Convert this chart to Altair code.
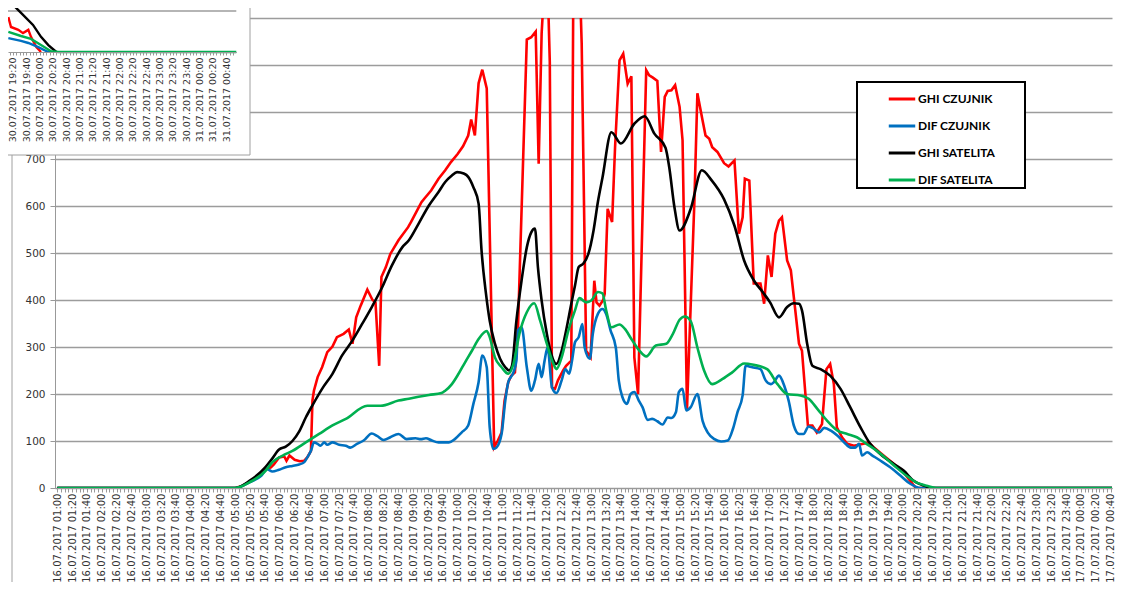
import altair as alt
import pandas as pd

SERIES = ["GHI CZUJNIK", "DIF CZUJNIK", "GHI SATELITA", "DIF SATELITA"]
COLORS = ["#FF0000", "#0070C0", "#000000", "#00B050"]

# ---- main chart, 16.07.2017 (W/m2) ----
ghi_czujnik_t = ["01:00","05:00","05:10","05:20","05:30","05:41","05:48","05:52","05:59","06:06",
    "06:09","06:13","06:20","06:27","06:33","06:37","06:42","06:44","06:46","06:51",
    "06:57","07:04","07:11","07:17","07:26","07:33","07:38","07:43","07:49","07:58",
    "08:05","08:09","08:14","08:17","08:23","08:29","08:40","08:53","08:57","09:11",
    "09:15","09:24","09:34","09:43","09:51","10:00","10:07","10:14","10:18","10:23",
    "10:28","10:33","10:39","10:49","10:54","10:59","11:03","11:08","11:12","11:17",
    "11:21","11:33","11:39","11:45","11:49","11:53","11:57","12:01","12:04","12:07",
    "12:11","12:15","12:22","12:26","12:33","12:36","12:43","12:47","12:53","12:59",
    "13:04","13:07","13:11","13:16","13:18","13:22","13:28","13:32","13:38","13:43",
    "13:49","13:54","13:58","14:03","14:14","14:18","14:23","14:29","14:34","14:39",
    "14:43","14:48","14:53","14:59","15:03","15:09","15:19","15:23","15:30","15:34",
    "15:39","15:43","15:50","15:59","16:05","16:13","16:19","16:24","16:27","16:33",
    "16:39","16:44","16:48","16:53","16:58","17:03","17:08","17:13","17:17","17:24",
    "17:29","17:35","17:40","17:44","17:52","17:58","18:04","18:11","18:17","18:22",
    "18:27","18:31","18:38","18:45","18:54","19:07","19:14","19:21","19:34","19:48",
    "20:01","20:17","20:20","00:45"]
ghi_czujnik_v = [0,0,5,14,25,40,44,50,65,67,
    58,69,60,57,58,65,79,186,207,236,
    257,289,301,321,328,337,307,363,388,422,
    400,395,260,449,470,498,527,555,566,608,
    616,633,658,676,694,711,727,750,784,750,
    861,890,850,87,101,118,186,225,239,246,
    335,954,959,971,690,967,1080,1080,907,214,
    211,229,250,260,271,1150,1150,946,292,278,
    441,395,388,400,413,594,566,725,910,924,
    860,876,278,200,889,878,873,866,715,832,
    845,846,857,811,740,168,612,840,782,750,
    743,725,715,691,684,697,541,576,658,654,
    435,435,435,392,495,449,541,569,576,484,
    463,378,307,292,133,133,118,136,253,264,
    221,129,108,94,90,94,97,86,69,51,
    33,1,0,0]

dif_czujnik_t = ["01:00","05:00","05:19","05:35","05:43","05:50","05:59","06:08","06:17","06:26",
    "06:33","06:37","06:42","06:46","06:51","06:55","07:00","07:04","07:11","07:20",
    "07:29","07:35","07:44","07:53","08:04","08:11","08:20","08:29","08:40","08:51",
    "09:03","09:10","09:17","09:25","09:34","09:48","09:56","10:05","10:14","10:21",
    "10:28","10:33","10:39","10:43","10:48","10:52","10:59","11:04","11:08","11:15",
    "11:19","11:21","11:26","11:33","11:39","11:44","11:49","11:53","11:57","12:01",
    "12:07","12:13","12:20","12:25","12:30","12:34","12:38","12:43","12:48","12:51",
    "12:58","13:02","13:09","13:15","13:20","13:26","13:33","13:37","13:42","13:48",
    "13:53","13:58","14:04","14:09","14:16","14:22","14:29","14:36","14:43","14:48",
    "14:54","14:58","15:03","15:08","15:14","15:23","15:30","15:37","15:46","15:55",
    "16:04","16:11","16:17","16:24","16:28","16:37","16:48","16:55","17:02","17:06",
    "17:13","17:20","17:26","17:33","17:40","17:46","17:53","18:00","18:07","18:14",
    "18:23","18:32","18:41","18:50","18:56","19:01","19:05","19:12","19:19","19:30",
    "19:43","19:57","20:10","20:24","00:45"]
dif_czujnik_v = [0,0,12,26,40,35,39,44,47,50,
    55,65,79,97,94,90,97,92,97,92,
    90,86,94,101,116,111,102,108,115,104,
    106,104,106,101,97,97,104,118,133,179,
    225,282,257,129,83,86,115,186,225,246,
    271,335,342,257,207,229,264,236,271,299,
    214,202,229,253,243,271,310,321,349,299,
    275,328,371,381,370,335,299,229,193,179,
    200,204,186,172,145,147,142,135,150,149,
    161,204,211,165,172,200,143,118,104,99,
    101,126,161,197,260,257,253,229,221,225,
    239,218,186,133,115,115,131,126,118,128,
    122,111,97,86,86,94,69,76,69,58,
    44,26,9,0,0]

ghi_satelita_t = ["01:00","05:00","05:19","05:41","05:50","05:59","06:08","06:17","06:26","06:35",
    "06:44","06:57","07:11","07:24","07:38","07:51","08:04","08:18","08:31","08:45",
    "08:54","09:07","09:21","09:34","09:43","09:52","09:59","10:08","10:14","10:21",
    "10:28","10:32","10:38","10:43","10:50","10:57","11:04","11:09","11:13","11:19",
    "11:26","11:33","11:39","11:44","11:48","11:53","12:00","12:06","12:13","12:20",
    "12:26","12:33","12:38","12:43","12:49","12:56","13:03","13:09","13:15","13:27",
    "13:40","13:58","14:12","14:25","14:40","14:45","14:52","14:59","15:14","15:29",
    "15:42","15:59","16:13","16:26","16:39","16:52","17:01","17:13","17:24","17:33",
    "17:40","17:44","17:51","17:58","18:09","18:22","18:36","18:49","19:03","19:16",
    "19:30","19:48","20:01","20:14","20:28","20:37","20:40","00:45"]
ghi_satelita_v = [0,0,15,45,63,82,88,100,120,150,
    176,211,243,282,314,349,385,427,473,512,
    527,562,601,630,651,665,672,669,662,640,
    605,505,413,356,307,275,257,250,260,356,
    442,512,544,552,470,399,328,285,264,292,
    335,392,431,470,477,498,548,610,660,757,
    733,775,791,754,724,683,598,548,594,676,
    655,614,558,484,442,415,395,363,385,393,
    392,378,307,260,253,239,211,172,129,94,
    72,51,37,16,5,1,0,0]

dif_satelita_t = ["01:00","05:00","05:19","05:41","05:50","06:04","06:17","06:35","06:53","07:11",
    "07:29","07:58","08:16","08:40","08:54","09:07","09:21","09:38","09:43","09:52",
    "10:01","10:10","10:19","10:28","10:39","10:43","10:50","10:59","11:08","11:15",
    "11:23","11:33","11:43","11:51","12:00","12:09","12:13","12:20","12:29","12:38",
    "12:44","12:53","13:00","13:09","13:15","13:20","13:27","13:38","13:45","13:54",
    "14:05","14:14","14:27","14:41","14:50","14:59","15:06","15:14","15:23","15:32",
    "15:43","15:57","16:10","16:26","16:39","16:57","17:11","17:24","17:42","17:53",
    "18:05","18:18","18:32","18:45","18:58","19:11","19:25","19:38","19:51","20:05",
    "20:18","20:32","20:45","00:45"]
dif_satelita_v = [0,0,12,37,55,69,79,97,115,133,
    147,175,175,186,190,194,198,202,207,221,
    243,268,292,317,334,321,278,257,243,264,
    328,374,393,356,307,264,253,278,335,378,
    404,395,399,417,414,378,342,348,339,317,
    292,280,303,307,328,358,365,355,299,250,
    221,232,246,265,262,253,221,200,197,190,
    168,143,122,115,108,94,79,62,44,26,
    12,5,0,0]

# ---- overlapping fragment of another chart (30.07.2017 evening) ----
inset_ghi_czujnik_t = ["19:13","19:17","19:28","19:35","19:43","19:47","19:55","20:02"]
inset_ghi_czujnik_v = [85,61,54,46,54,37,12,0]
inset_dif_czujnik_t = ["19:13","19:32","19:43","19:58","20:10","20:17"]
inset_dif_czujnik_v = [34,27,22,12,2,0]
inset_ghi_satelita_t = ["19:13","19:28","19:50","20:02","20:13","20:25"]
inset_ghi_satelita_v = [127,102,66,37,17,0]
inset_dif_satelita_t = ["19:13","19:32","19:47","20:02","20:17","20:28","00:55"]
inset_dif_satelita_v = [49,39,32,17,2,0,0]

Y_TICKS = list(range(0, 1001, 100))


def to_min(s):
    h, m = map(int, s.split(":"))
    v = h * 60 + m
    return v + 1440 if v < 60 else v


def frame(tlist, vlist, name):
    if len(tlist) != len(vlist):
        raise ValueError(f"length mismatch in {name}: {len(tlist)} vs {len(vlist)}")
    return pd.DataFrame({"t": [to_min(s) for s in tlist], "v": vlist, "series": name})


main_sets = [
    (ghi_czujnik_t, ghi_czujnik_v), (dif_czujnik_t, dif_czujnik_v),
    (ghi_satelita_t, ghi_satelita_v), (dif_satelita_t, dif_satelita_v)]
inset_sets = [
    (inset_ghi_czujnik_t, inset_ghi_czujnik_v), (inset_dif_czujnik_t, inset_dif_czujnik_v),
    (inset_ghi_satelita_t, inset_ghi_satelita_v), (inset_dif_satelita_t, inset_dif_satelita_v)]


def label_expr(d1, d2):
    return ("datum.value % 20 != 0 ? '' : (datum.value >= 1440 ? '" + d2 + "' : '" + d1 + "') + '.07.2017 ' + "
            "(floor(datum.value / 60) % 24 < 10 ? '0' : '') + (floor(datum.value / 60) % 24) + ':' + "
            "(datum.value % 60 < 10 ? '0' : '') + (datum.value % 60)")


FONT = "DejaVu Sans"
GRID = "#9c9c9c"
AX = "#999999"
LAB = "#333333"

x_main = alt.X("t:Q",
    scale=alt.Scale(domain=[56.9, 1482], nice=False, zero=False),
    axis=alt.Axis(values=list(range(60, 1481, 5)), labelExpr=label_expr("16", "17"),
                  labelAngle=-90, labelAlign="right", labelBaseline="middle",
                  labelFont=FONT, labelFontSize=10, labelColor=LAB, labelOverlap=False,
                  labelFlush=False, labelPadding=1, tickSize=4, tickColor=AX,
                  domainColor=AX, grid=False, title=None))
y_main = alt.Y("v:Q",
    scale=alt.Scale(domain=[0, 1000], nice=False),
    axis=alt.Axis(values=Y_TICKS, grid=True, gridColor=GRID, gridWidth=1.3,
                  tickSize=5, tickColor=AX, domainColor=AX, labelFont=FONT,
                  labelFontSize=10.5, labelColor=LAB, labelPadding=5, title=None))
color = alt.Color("series:N", scale=alt.Scale(domain=SERIES, range=COLORS),
                  legend=alt.Legend(title="\u00a0", titleOrient="right", titlePadding=28,
                                    titleFontSize=4))

main_layers = []
for (tl, vl), name in zip(main_sets, SERIES):
    interp = "linear" if name == "GHI CZUJNIK" else "monotone"
    main_layers.append(
        alt.Chart(frame(tl, vl, name)).mark_line(strokeWidth=2.6, clip=True, interpolate=interp)
        .encode(x=x_main, y=y_main, color=color))
main = alt.layer(*main_layers)

# white box of the overlapping fragment
box = alt.Chart(pd.DataFrame({"a": [0]})).mark_rect(
    fill="white", stroke="#a0a0a0", strokeWidth=1).encode(
    x=alt.value(-49), x2=alt.value(195), y=alt.value(-12), y2=alt.value(137))
border = alt.Chart(pd.DataFrame({"a": [0]})).mark_rule(color="#a0a0a0", strokeWidth=1).encode(
    x=alt.value(-43), y=alt.value(137), y2=alt.value(600))

x_in_scale = alt.Scale(domain=[1152.5, 1495], range=[-47, 181.3], nice=False, zero=False)
y_in_scale = alt.Scale(domain=[0, 100], range=[34, -7], nice=False, zero=False)
x_in = alt.X("t:Q", scale=x_in_scale,
    axis=alt.Axis(orient="bottom", offset=-436, values=list(range(1155, 1495, 5)),
                  labelExpr=label_expr("30", "31"), labelAngle=-90, labelAlign="right",
                  labelBaseline="middle", labelFont=FONT, labelFontSize=9.5, labelColor=LAB,
                  labelOverlap=False, labelFlush=False, labelPadding=2, tickSize=3,
                  tickColor=AX, domainColor=AX, grid=False, title=None, zindex=1))
y_in = alt.Y("v:Q", scale=y_in_scale, axis=None)

inset_layers = [
    alt.Chart(pd.DataFrame({"t": [1152.5], "t2": [1495], "v": [100]})).mark_rule(
        color=GRID, strokeWidth=1.3).encode(x=x_in, x2="t2:Q", y=y_in)]
for (tl, vl), name, col in zip(inset_sets, SERIES, COLORS):
    inset_layers.append(
        alt.Chart(frame(tl, vl, name)).mark_line(strokeWidth=2.4, color=col)
        .encode(x=x_in, y=y_in))
inset = alt.layer(*inset_layers)

chart = alt.layer(main, box, border, inset).resolve_scale(
    x="independent", y="independent"
).properties(
    width=1057, height=470,
    autosize=alt.AutoSizeParams(type="none"),
    padding={"left": 47, "top": 10, "right": 5, "bottom": 94},
).configure_view(stroke=None).configure_legend(
    orient="none", legendX=802, legendY=64, strokeColor="black", strokeWidth=2,
    fillColor="white", padding=2, symbolType="stroke", symbolStrokeWidth=3,
    symbolSize=700, symbolOffset=28, labelOffset=1, labelFont="Lato",
    labelFontWeight="bold", labelFontSize=12, labelColor="black", rowPadding=6,
)

chart.save("out.html", embed_options={"renderer": "svg", "actions": False})
